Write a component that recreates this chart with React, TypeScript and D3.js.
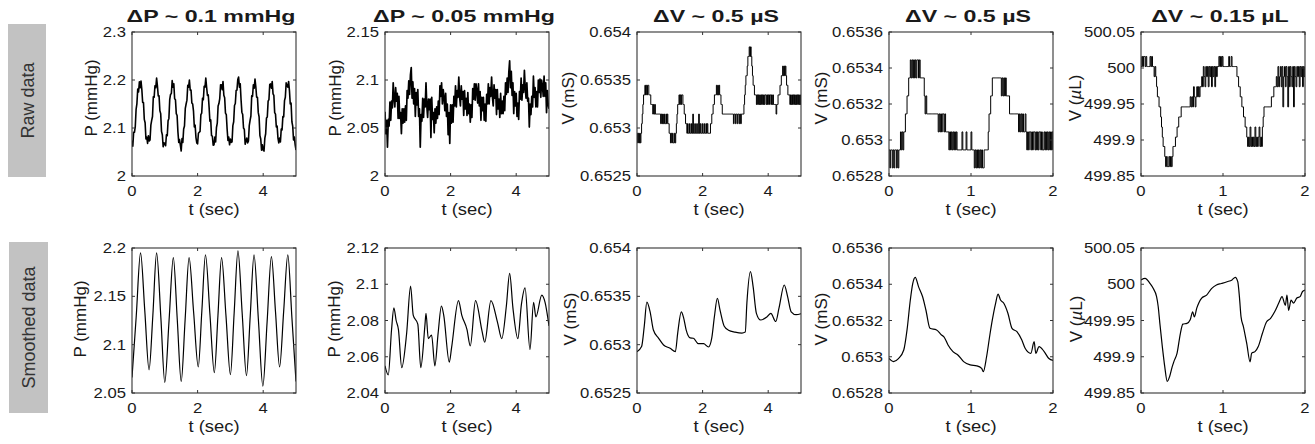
import React from "react";
import * as d3 from "d3";

type Pt = [number, number];

// ---------------- raw records ----------------

// pressure, sampled every 25 ms
const pressureDt = 0.025;
const pressureRawA = [
  2.074, 2.062, 2.091, 2.091, 2.103, 2.139, 2.151, 2.181, 2.175, 2.196, 2.184, 2.198, 2.18, 2.153, 2.153, 2.118, 2.111, 2.077, 2.081, 2.068,
  2.084, 2.073, 2.075, 2.106, 2.116, 2.124, 2.165, 2.164, 2.188, 2.184, 2.204, 2.188, 2.167, 2.167, 2.136, 2.13, 2.093, 2.086, 2.061, 2.069,
  2.067, 2.063, 2.086, 2.084, 2.115, 2.12, 2.159, 2.17, 2.172, 2.199, 2.185, 2.192, 2.161, 2.159, 2.13, 2.126, 2.092, 2.07, 2.076, 2.064,
  2.052, 2.078, 2.07, 2.098, 2.104, 2.141, 2.15, 2.158, 2.189, 2.185, 2.2, 2.179, 2.179, 2.152, 2.15, 2.135, 2.102, 2.106, 2.08, 2.069,
  2.067, 2.089, 2.091, 2.093, 2.128, 2.131, 2.162, 2.159, 2.187, 2.185, 2.204, 2.185, 2.168, 2.169, 2.144, 2.114, 2.117, 2.084, 2.083, 2.064,
  2.065, 2.081, 2.071, 2.101, 2.11, 2.146, 2.151, 2.161, 2.19, 2.19, 2.18, 2.197, 2.168, 2.163, 2.131, 2.128, 2.098, 2.074, 2.081, 2.065,
  2.077, 2.07, 2.071, 2.105, 2.113, 2.147, 2.151, 2.178, 2.179, 2.201, 2.206, 2.185, 2.192, 2.159, 2.133, 2.128, 2.1, 2.097, 2.066, 2.073,
  2.079, 2.069, 2.073, 2.105, 2.116, 2.125, 2.167, 2.166, 2.19, 2.183, 2.202, 2.186, 2.164, 2.164, 2.132, 2.123, 2.084, 2.077, 2.054, 2.065,
  2.054, 2.052, 2.079, 2.088, 2.121, 2.123, 2.156, 2.159, 2.191, 2.192, 2.183, 2.197, 2.171, 2.168, 2.132, 2.129, 2.102, 2.104, 2.079, 2.069,
  2.079, 2.071, 2.098, 2.096, 2.124, 2.123, 2.157, 2.164, 2.194, 2.188, 2.185, 2.197, 2.178, 2.15, 2.152, 2.113, 2.104, 2.075, 2.081, 2.065,
  2.054,
];
const pressureRawB = [
  2.067, 2.044, 2.058, 2.03, 2.059, 2.052, 2.077, 2.058, 2.078, 2.071,
  2.097, 2.081, 2.072, 2.092, 2.078, 2.086, 2.06, 2.083, 2.06, 2.066,
  2.044, 2.07, 2.055, 2.07, 2.056, 2.073, 2.058, 2.089, 2.081, 2.099,
  2.085, 2.105, 2.113, 2.081, 2.098, 2.075, 2.091, 2.062, 2.087, 2.074,
  2.09, 2.062, 2.07, 2.03, 2.064, 2.057, 2.081, 2.061, 2.08, 2.072,
  2.097, 2.073, 2.061, 2.08, 2.069, 2.08, 2.04, 2.082, 2.059, 2.066,
  2.045, 2.07, 2.055, 2.072, 2.06, 2.078, 2.064, 2.094, 2.083, 2.097,
  2.075, 2.09, 2.082, 2.068, 2.086, 2.062, 2.075, 2.043, 2.066, 2.034,
  2.074, 2.055, 2.074, 2.056, 2.083, 2.073, 2.094, 2.072, 2.089, 2.082,
  2.103, 2.082, 2.073, 2.094, 2.08, 2.088, 2.063, 2.089, 2.07, 2.081,
  2.063, 2.087, 2.065, 2.075, 2.056, 2.074, 2.061, 2.091, 2.08, 2.096,
  2.079, 2.096, 2.089, 2.076, 2.096, 2.073, 2.088, 2.058, 2.082, 2.068,
  2.082, 2.058, 2.075, 2.057, 2.085, 2.075, 2.096, 2.075, 2.092, 2.083,
  2.103, 2.082, 2.073, 2.095, 2.081, 2.09, 2.064, 2.09, 2.07, 2.08,
  2.061, 2.086, 2.065, 2.078, 2.065, 2.083, 2.068, 2.097, 2.085, 2.102,
  2.087, 2.108, 2.12, 2.092, 2.109, 2.084, 2.097, 2.065, 2.088, 2.073,
  2.086, 2.062, 2.076, 2.059, 2.088, 2.08, 2.102, 2.079, 2.095, 2.087,
  2.11, 2.092, 2.081, 2.097, 2.078, 2.081, 2.051, 2.075, 2.064, 2.083,
  2.072, 2.104, 2.082, 2.092, 2.072, 2.088, 2.072, 2.1, 2.087, 2.101,
  2.082, 2.1, 2.094, 2.083, 2.104, 2.083, 2.097, 2.066, 2.089, 2.075,
  2.07,
];

// conductance ADC levels (mS); raw records hold the level index of each sample
const conductanceLevels = [
  0.652845, 0.652945, 0.653045, 0.653145, 0.653245, 0.653345,
  0.653445, 0.653545, 0.653645, 0.653745, 0.653845,
];
const conductanceDtA = 0.02;
const conductanceRawA = [
  1, 0, 1, 0, 1, 0, 1, 2, 3, 4,
  5, 5, 6, 5, 6, 5, 6, 6, 5, 5,
  5, 4, 4, 4, 3, 4, 3, 4, 3, 3,
  3, 3, 3, 3, 3, 3, 2, 3, 2, 3,
  2, 3, 2, 2, 3, 2, 3, 2, 2, 1,
  1, 0, 1, 0, 1, 0, 0, 1, 0, 1,
  2, 3, 4, 4, 5, 4, 5, 4, 5, 5,
  4, 4, 3, 3, 2, 2, 1, 2, 1, 1,
  2, 1, 1, 2, 1, 3, 1, 1, 2, 1,
  1, 2, 1, 1, 3, 1, 2, 1, 1, 2,
  1, 1, 2, 1, 1, 2, 1, 2, 1, 1,
  1, 1, 2, 2, 3, 3, 4, 4, 5, 5,
  5, 6, 5, 6, 5, 6, 5, 5, 4, 4,
  3, 3, 3, 3, 3, 3, 3, 3, 3, 3,
  3, 3, 3, 3, 3, 3, 3, 2, 3, 3,
  2, 3, 3, 2, 3, 3, 2, 3, 2, 3,
  3, 3, 3, 4, 5, 6, 7, 7, 8, 9,
  9, 10, 9, 10, 9, 8, 7, 6, 6, 5,
  5, 5, 4, 5, 4, 5, 4, 5, 4, 5,
  4, 5, 4, 5, 4, 5, 5, 4, 5, 4,
  5, 4, 5, 5, 4, 5, 4, 5, 4, 4,
  4, 4, 3, 4, 4, 5, 5, 5, 6, 6,
  7, 7, 8, 7, 8, 7, 8, 7, 6, 6,
  5, 5, 5, 4, 5, 4, 5, 4, 5, 4,
  5, 4, 5, 4, 5, 4, 5, 4, 5, 4,
  5,
];
const conductanceDtB = 0.01;
const conductanceRawB = [
  1, 0, 1, 1, 0, 1, 0, 1, 1, 0,
  1, 0, 1, 1, 2, 1, 2, 1, 2, 2,
  3, 3, 4, 4, 5, 5, 6, 5, 6, 5,
  6, 5, 6, 5, 6, 6, 5, 6, 5, 5,
  5, 5, 5, 4, 3, 4, 3, 3, 3, 3,
  3, 3, 3, 3, 3, 3, 3, 3, 3, 3,
  2, 3, 2, 3, 2, 3, 3, 2, 3, 2,
  2, 2, 2, 1, 2, 1, 2, 1, 2, 1,
  2, 1, 2, 1, 1, 1, 1, 1, 1, 2,
  1, 1, 1, 1, 2, 1, 1, 1, 1, 1,
  2, 1, 1, 1, 0, 1, 0, 1, 0, 1,
  0, 1, 0, 1, 0, 0, 1, 1, 1, 1,
  1, 2, 3, 3, 4, 4, 5, 5, 5, 5,
  5, 5, 5, 5, 5, 5, 5, 4, 5, 4,
  5, 4, 5, 4, 4, 4, 4, 3, 3, 3,
  3, 3, 3, 3, 3, 3, 3, 3, 2, 3,
  2, 3, 2, 3, 2, 2, 3, 2, 1, 2,
  1, 2, 2, 1, 2, 1, 2, 2, 1, 2,
  1, 2, 1, 2, 2, 1, 2, 1, 1, 2,
  1, 2, 1, 2, 1, 2, 1, 2, 1, 2,
  1,
];

// volume ADC levels (µL)
const volumeLevels = [
  499.863, 499.877, 499.891, 499.904, 499.918, 499.932,
  499.946, 499.96, 499.974, 499.988, 500.002, 500.016,
];
const volumeDt = 0.01;
const volumeRaw = [
  10, 11, 10, 11, 11, 10, 11, 10, 10, 10,
  10, 11, 10, 11, 10, 10, 9, 10, 9, 8,
  7, 7, 6, 6, 5, 4, 3, 2, 2, 1,
  0, 1, 0, 0, 1, 0, 1, 0, 1, 2,
  2, 2, 3, 3, 4, 4, 5, 5, 5, 6,
  6, 6, 6, 6, 6, 6, 6, 6, 6, 6,
  7, 6, 7, 6, 8, 7, 6, 7, 8, 7,
  8, 7, 8, 8, 9, 8, 10, 9, 8, 10,
  9, 10, 8, 10, 9, 10, 8, 10, 9, 10,
  8, 10, 9, 10, 10, 11, 10, 11, 10, 11,
  10, 10, 10, 10, 10, 10, 10, 11, 10, 10,
  11, 10, 10, 10, 10, 10, 10, 9, 9, 8,
  8, 7, 7, 6, 6, 5, 5, 4, 4, 3,
  2, 3, 2, 4, 2, 3, 2, 3, 2, 4,
  2, 3, 2, 3, 4, 2, 3, 2, 4, 5,
  6, 6, 6, 6, 6, 6, 6, 6, 6, 7,
  7, 7, 8, 8, 8, 9, 8, 10, 8, 9,
  10, 8, 10, 6, 9, 10, 8, 10, 9, 6,
  10, 8, 10, 9, 8, 10, 6, 10, 9, 8,
  10, 9, 10, 8, 10, 9, 10, 8, 10, 9,
  10,
];

// ---------------- smoothed records (t sec, value) ----------------
const pressureSmoothA: Pt[] = [
  [0, 2.066], [0.13, 2.13], [0.26, 2.195], [0.39, 2.135], [0.52, 2.074], [0.635, 2.13], [0.75, 2.195],
  [0.88, 2.128], [1.0, 2.061], [1.13, 2.125], [1.26, 2.19], [1.38, 2.126], [1.5, 2.062], [1.62, 2.126],
  [1.74, 2.19], [1.88, 2.133], [2.02, 2.077], [2.13, 2.135], [2.24, 2.193], [2.375, 2.132], [2.51, 2.071],
  [2.62, 2.13], [2.73, 2.19], [2.865, 2.13], [3.0, 2.069], [3.115, 2.133], [3.23, 2.197], [3.36, 2.132],
  [3.49, 2.068], [3.605, 2.13], [3.72, 2.193], [3.855, 2.125], [3.99, 2.057], [4.12, 2.124], [4.25, 2.191],
  [4.375, 2.134], [4.5, 2.077], [4.625, 2.135], [4.75, 2.193], [4.875, 2.128], [5.0, 2.062],
];
const pressureSmoothB: Pt[] = [
  [0, 2.055], [0.1, 2.05], [0.2, 2.075], [0.27, 2.087], [0.34, 2.08], [0.41, 2.075], [0.51, 2.054],
  [0.66, 2.073], [0.78, 2.099], [0.86, 2.083], [1.0, 2.078], [1.09, 2.054], [1.22, 2.078], [1.25, 2.084],
  [1.32, 2.07], [1.42, 2.072], [1.52, 2.055], [1.62, 2.073], [1.72, 2.088], [1.79, 2.083], [1.96, 2.057],
  [2.03, 2.065], [2.24, 2.091], [2.34, 2.083], [2.5, 2.075], [2.6, 2.066], [2.76, 2.091], [2.96, 2.074],
  [3.04, 2.068], [3.23, 2.091], [3.43, 2.079], [3.56, 2.07], [3.7, 2.088], [3.8, 2.106], [3.9, 2.087],
  [4.05, 2.07], [4.16, 2.089], [4.27, 2.098], [4.42, 2.064], [4.53, 2.09], [4.6, 2.082], [4.78, 2.094],
  [4.88, 2.09], [5.0, 2.077],
];
const conductanceSmoothA: Pt[] = [
  [0, 0.652928], [0.14, 0.65298], [0.22, 0.653186], [0.3, 0.65344], [0.4, 0.65334], [0.5, 0.653152],
  [0.66, 0.653066], [0.81, 0.652997], [1.01, 0.652962], [1.17, 0.652927], [1.24, 0.653117], [1.35, 0.65334],
  [1.42, 0.65328], [1.5, 0.65315], [1.62, 0.65307], [1.72, 0.653066], [1.87, 0.65301], [2.03, 0.65301],
  [2.18, 0.652976], [2.28, 0.65307], [2.36, 0.65329], [2.45, 0.65348], [2.53, 0.65336], [2.66, 0.65319],
  [2.79, 0.65315], [2.99, 0.65313], [3.2, 0.65312], [3.3, 0.65313], [3.35, 0.65343], [3.46, 0.653755],
  [3.54, 0.6536], [3.64, 0.653324], [3.77, 0.653255], [3.97, 0.65329], [4.08, 0.653324], [4.23, 0.65324],
  [4.33, 0.65338], [4.49, 0.653617], [4.59, 0.6535], [4.7, 0.65334], [4.85, 0.65331], [5.0, 0.65332],
];
const conductanceSmoothB: Pt[] = [
  [0, 0.652991], [0.054, 0.652973], [0.115, 0.65299], [0.18, 0.653037], [0.22, 0.653148], [0.26, 0.653313],
  [0.29, 0.653405], [0.32, 0.653438], [0.36, 0.653387], [0.41, 0.653331], [0.45, 0.653258], [0.5, 0.653157],
  [0.58, 0.653148], [0.64, 0.65312], [0.67, 0.65311], [0.72, 0.653065], [0.78, 0.653028], [0.84, 0.65301],
  [0.91, 0.652973], [0.99, 0.652955], [1.07, 0.65295], [1.13, 0.652936], [1.15, 0.652918], [1.19, 0.653],
  [1.23, 0.65312], [1.26, 0.653203], [1.3, 0.653295], [1.33, 0.653346], [1.36, 0.653313], [1.4, 0.653295],
  [1.45, 0.65324], [1.5, 0.653157], [1.56, 0.653138], [1.62, 0.653092], [1.66, 0.653047], [1.73, 0.653019],
  [1.77, 0.653083], [1.79, 0.653019], [1.83, 0.653056], [1.89, 0.65303], [1.95, 0.65299], [2.0, 0.65298],
];
const volumeSmooth: Pt[] = [
  [0, 500.006], [0.05, 500.008], [0.11, 500.001], [0.15, 499.994], [0.19, 499.983], [0.21, 499.969],
  [0.23, 499.946], [0.26, 499.914], [0.29, 499.886], [0.32, 499.866], [0.35, 499.873], [0.38, 499.886],
  [0.4, 499.893], [0.44, 499.905], [0.48, 499.932], [0.51, 499.945], [0.56, 499.946], [0.6, 499.951],
  [0.63, 499.962], [0.65, 499.955], [0.68, 499.967], [0.74, 499.981], [0.8, 499.985], [0.86, 499.994],
  [0.92, 499.999], [0.98, 500.001], [1.05, 500.0035], [1.11, 500.006], [1.15, 500.0096], [1.18, 500.0035],
  [1.2, 499.983], [1.22, 499.955], [1.25, 499.941], [1.29, 499.918], [1.33, 499.893], [1.35, 499.905],
  [1.39, 499.907], [1.43, 499.914], [1.48, 499.932], [1.53, 499.948], [1.58, 499.953], [1.63, 499.962],
  [1.68, 499.974], [1.72, 499.983], [1.76, 499.971], [1.78, 499.985], [1.8, 499.964], [1.83, 499.978],
  [1.86, 499.974], [1.9, 499.981], [1.94, 499.983], [1.97, 499.99], [2.0, 499.992],
];

// ---------------- axes ----------------
const titles = ["ΔP ~ 0.1 mmHg", "ΔP ~ 0.05 mmHg", "ΔV ~ 0.5 µS", "ΔV ~ 0.5 µS", "ΔV ~ 0.15 µL"];
const yUnits = ["mmHg", "mmHg", "mS", "mS", "µL"];
const yNames = ["P", "P", "V", "V", "V"];
const xDomains: Pt[] = [[0, 5], [0, 5], [0, 5], [0, 2], [0, 2]];
const xTicks = [[0, 2, 4], [0, 2, 4], [0, 2, 4], [0, 1, 2], [0, 1, 2]];
const yDomainsRaw: Pt[] = [[2, 2.3], [2, 2.15], [0.6525, 0.654], [0.6528, 0.6536], [499.85, 500.05]];
const yTicksRaw = [
  [2, 2.1, 2.2, 2.3],
  [2, 2.05, 2.1, 2.15],
  [0.6525, 0.653, 0.6535, 0.654],
  [0.6528, 0.653, 0.6532, 0.6534, 0.6536],
  [499.85, 499.9, 499.95, 500, 500.05],
];
const yDomainsSmooth: Pt[] = [[2.05, 2.2], [2.04, 2.12], [0.6525, 0.654], [0.6528, 0.6536], [499.85, 500.05]];
const yTicksSmooth = [
  [2.05, 2.1, 2.15, 2.2],
  [2.04, 2.06, 2.08, 2.1, 2.12],
  [0.6525, 0.653, 0.6535, 0.654],
  [0.6528, 0.653, 0.6532, 0.6534, 0.6536],
  [499.85, 499.9, 499.95, 500, 500.05],
];
const rowLabels = ["Raw data", "Smoothed data"];

// ---------------- layout ----------------
const W = 1315;
const H = 444;
const colLeft = [132, 385, 637, 889, 1141];
const panelW = 164;
const rowTop = [32, 248];
const rowH = [144, 145];
const yLabelGap = [
  [35, 44, 63, 62, 60],
  [46, 45, 61, 62, 59],
];
const yLabelMid = [98, 319];
const rowBoxes = [
  { x: 8, y: 24, w: 38, h: 153 },
  { x: 9, y: 242, w: 39, h: 171 },
];
const FONT = "Arial, 'Liberation Sans', sans-serif";
const AXIS = "#333";
const INK = "#1a1a1a";

const sampled = (vals: number[], dt: number): Pt[] => vals.map((v, i) => [i * dt, v]);
const leveled = (codes: number[], levels: number[], dt: number): Pt[] =>
  codes.map((c, i) => [i * dt, levels[c]]);

const rawSeries: { pts: Pt[]; curve: d3.CurveFactory; width: number }[] = [
  { pts: sampled(pressureRawA, pressureDt), curve: d3.curveLinear, width: 1.6 },
  { pts: sampled(pressureRawB, pressureDt), curve: d3.curveLinear, width: 1.7 },
  { pts: leveled(conductanceRawA, conductanceLevels, conductanceDtA), curve: d3.curveStepAfter, width: 1 },
  { pts: leveled(conductanceRawB, conductanceLevels, conductanceDtB), curve: d3.curveStepAfter, width: 1 },
  { pts: leveled(volumeRaw, volumeLevels, volumeDt), curve: d3.curveStepAfter, width: 1 },
];
const smoothSeries = [pressureSmoothA, pressureSmoothB, conductanceSmoothA, conductanceSmoothB, volumeSmooth];

type PanelDef = {
  id: string;
  row: number;
  col: number;
  pts: Pt[];
  curve: d3.CurveFactory;
  width: number;
  yDomain: Pt;
  yTicks: number[];
};

const panels: PanelDef[] = [];
for (let c = 0; c < 5; c++) {
  const r = rawSeries[c];
  panels.push({ id: `r${c}`, row: 0, col: c, pts: r.pts, curve: r.curve, width: r.width, yDomain: yDomainsRaw[c], yTicks: yTicksRaw[c] });
}
for (let c = 0; c < 5; c++) {
  panels.push({ id: `s${c}`, row: 1, col: c, pts: smoothSeries[c], curve: d3.curveMonotoneX, width: 1.2, yDomain: yDomainsSmooth[c], yTicks: yTicksSmooth[c] });
}

// horizontally stretched text, as in the source figure
const Label = ({ x, y, sx, size, anchor, bold, children }: any) => (
  <g transform={`translate(${x},${y}) scale(${sx},1)`}>
    <text x={0} y={0} fontSize={size} fontWeight={bold ? "bold" : "normal"} textAnchor={anchor} fill={INK}>
      {children}
    </text>
  </g>
);

const Panel = ({ p }: { p: PanelDef }) => {
  const left = colLeft[p.col];
  const top = rowTop[p.row];
  const h = rowH[p.row];
  const x = d3.scaleLinear().domain(xDomains[p.col]).range([left, left + panelW]);
  const y = d3.scaleLinear().domain(p.yDomain).range([top + h, top]);
  const line = d3
    .line<Pt>()
    .x((d) => x(d[0]))
    .y((d) => y(d[1]))
    .curve(p.curve);
  const tk = 3;
  const raw = p.row === 0;
  const unit = yUnits[p.col];
  return (
    <g>
      <clipPath id={`clip-${p.id}`}>
        <rect x={left} y={top} width={panelW} height={h} />
      </clipPath>
      <path
        d={line(p.pts) ?? ""}
        fill="none"
        stroke="#000"
        strokeWidth={p.width}
        strokeLinejoin="round"
        clipPath={`url(#clip-${p.id})`}
      />
      <rect x={left} y={top} width={panelW} height={h} fill="none" stroke={AXIS} strokeWidth={1.1} />
      {xTicks[p.col].map((t) => (
        <g key={`x${t}`}>
          <line x1={x(t)} x2={x(t)} y1={top + h} y2={top + h - tk} stroke={AXIS} />
          <line x1={x(t)} x2={x(t)} y1={top} y2={top + tk} stroke={AXIS} />
          <Label x={x(t)} y={top + h + 20} sx={1.15} size={14.5} anchor="middle">
            {String(t)}
          </Label>
        </g>
      ))}
      {p.yTicks.map((v) => (
        <g key={`y${v}`}>
          <line x1={left} x2={left + tk} y1={y(v)} y2={y(v)} stroke={AXIS} />
          <line x1={left + panelW} x2={left + panelW - tk} y1={y(v)} y2={y(v)} stroke={AXIS} />
          <Label x={left - 6} y={y(v) + 5} sx={1.15} size={14.5} anchor="end">
            {String(v)}
          </Label>
        </g>
      ))}
      <Label x={left + panelW / 2} y={top + h + 39} sx={1.15} size={16} anchor="middle">
        t (sec)
      </Label>
      <text
        transform={`translate(${left - yLabelGap[p.row][p.col]},${yLabelMid[p.row]}) rotate(-90)`}
        fontSize={17}
        textAnchor="middle"
        fill={INK}
      >
        {yNames[p.col]} (
        {unit.startsWith("µ") ? (
          <>
            <tspan fontStyle="italic">µ</tspan>
            {unit.slice(1)}
          </>
        ) : (
          unit
        )}
        )
      </text>
      {raw && (
        <Label x={left + panelW / 2 - 3} y={22} sx={1.45} size={16} anchor="middle" bold>
          {titles[p.col]}
        </Label>
      )}
    </g>
  );
};

export default function App() {
  return (
    <svg
      width={W}
      height={H}
      style={{ position: "absolute", left: 0, top: 0, background: "#fff" }}
      fontFamily={FONT}
    >
      <rect x={0} y={0} width={W} height={H} fill="#fff" />
      {rowBoxes.map((b, i) => (
        <g key={rowLabels[i]}>
          <rect x={b.x} y={b.y} width={b.w} height={b.h} fill="#c2c2c2" />
          <text
            transform={`translate(${b.x + b.w / 2 + 6.5},${b.y + b.h / 2}) rotate(-90)`}
            fontSize={18}
            textAnchor="middle"
            fill="#333"
          >
            {rowLabels[i]}
          </text>
        </g>
      ))}
      {panels.map((p) => (
        <Panel key={p.id} p={p} />
      ))}
    </svg>
  );
}
